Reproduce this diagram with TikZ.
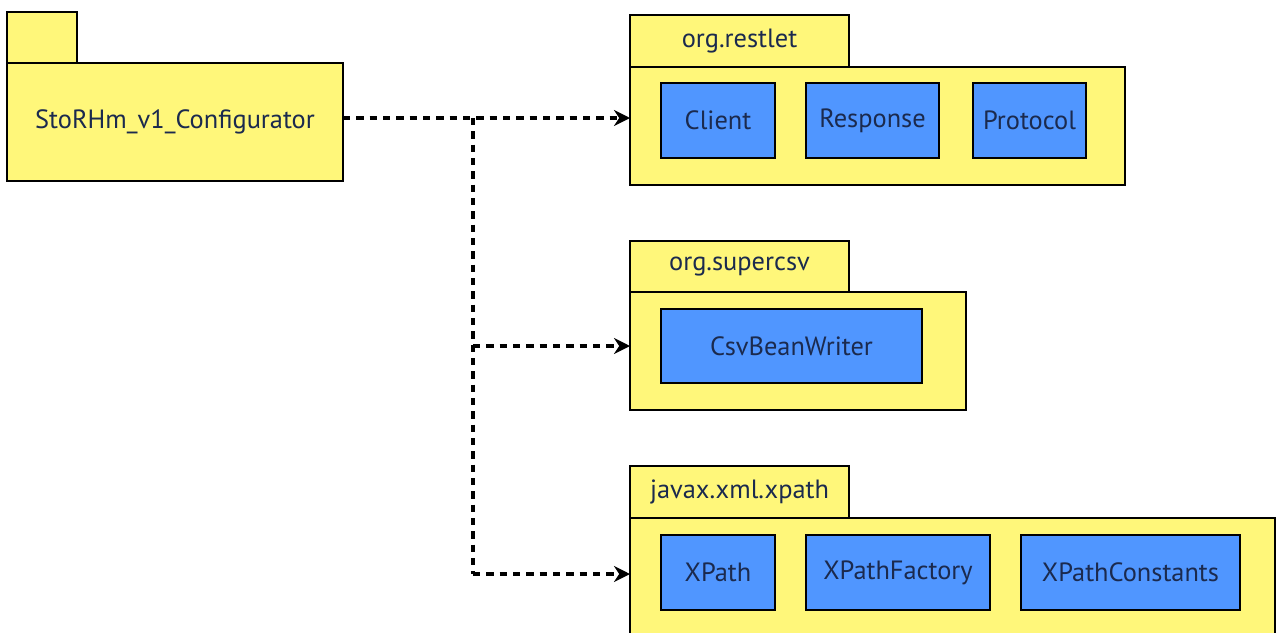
\documentclass[tikz,border=0pt]{standalone}
\usepackage{fontspec}
\setmainfont{PT Sans}
\usetikzlibrary{arrows.meta}
\definecolor{pkgyellow}{HTML}{FFF77A}
\definecolor{clsblue}{HTML}{5096FF}
\definecolor{txtnavy}{HTML}{1B2A4E}
\newcommand{\pbox}[7]{%
  \node[#2, minimum width={(#5-#3)*0.75pt}, minimum height={(#6-#4)*0.75pt}]
    (#1) at ({(#3+#5)/2},{(#4+#6)/2}) {#7};}
\tikzset{
  basebox/.style={draw=black, line width=2pt, inner sep=0pt, outer sep=0pt,
    text=txtnavy, font=\fontsize{19.8pt}{22pt}\selectfont},
  pkg/.style={basebox, fill=pkgyellow},
  cls/.style={basebox, fill=clsblue},
  depline/.style={line width=2.4pt, dash pattern=on 5.5pt off 4.5pt},
  dep/.style={depline, -{Stealth[length=12pt, width=12pt]}}
}
\begin{document}
\begin{tikzpicture}[x=0.75pt, y=-0.75pt]
\useasboundingbox (0,0) rectangle (1277,632);
\clip (0,0) rectangle (1277,632);
% left package
\pbox{stotab}{pkg}{7}{12}{77}{63}{}
\pbox{sto}{pkg}{7}{63}{343}{181}{StoRHm\_v1\_Configurator}
% org.restlet
\pbox{resttab}{pkg}{630}{15}{849}{67}{org.restlet}
\pbox{rest}{pkg}{630}{67}{1125}{185}{}
\pbox{client}{cls}{661}{83}{775}{158}{Client}
\pbox{response}{cls}{806}{83}{939}{158}{Response}
\pbox{protocol}{cls}{973}{83}{1086}{158}{Protocol}
% org.supercsv
\pbox{csvtab}{pkg}{630}{241}{849}{292}{org.supercsv}
\pbox{csv}{pkg}{630}{292}{966}{410}{}
\pbox{writer}{cls}{661}{309}{922}{383}{CsvBeanWriter}
% javax.xml.xpath
\pbox{xptab}{pkg}{630}{466}{849}{518}{javax.xml.xpath}
\pbox{xp}{pkg}{630}{518}{1275}{650}{}
\pbox{xpath}{cls}{661}{535}{775}{610}{XPath}
\pbox{xpfac}{cls}{806}{535}{990}{610}{XPathFactory}
\pbox{xpcon}{cls}{1021}{535}{1240}{610}{XPathConstants}
% connectors
\coordinate (j1) at (473,118);
\coordinate (j2) at (473,346);
\coordinate (j3) at (473,574);
\draw[dep] (sto.east |- j1) -- (rest.west |- j1);
\draw[depline] (j1) -- (j3);
\draw[dep] (j2) -- (csv.west |- j2);
\draw[dep] (j3) -- (xp.west |- j3);
\end{tikzpicture}
\end{document}
